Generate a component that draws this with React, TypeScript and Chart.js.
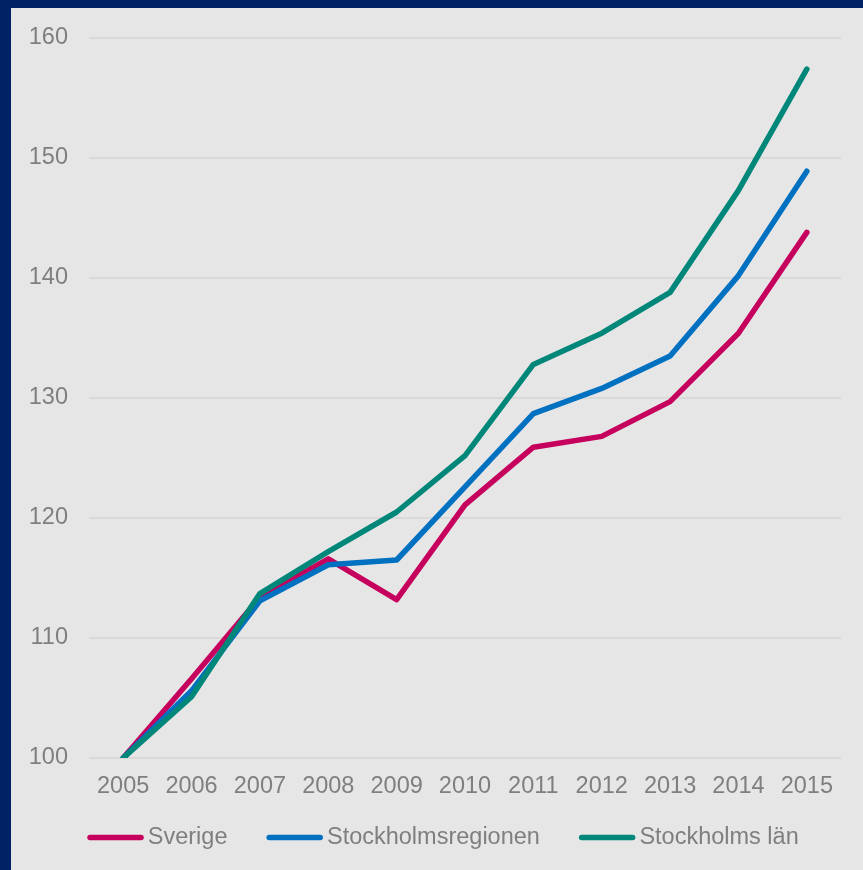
import React, { useEffect, useRef } from "react";
import { Chart, registerables } from "chart.js";

Chart.register(...registerables);

const years = ["2005", "2006", "2007", "2008", "2009", "2010", "2011", "2012", "2013", "2014", "2015"];
const sverige = [100, 106.6, 113.4, 116.6, 113.2, 121.1, 125.9, 126.8, 129.7, 135.4, 143.8];
const stockholmsregionen = [100, 105.6, 113.1, 116.1, 116.5, 122.6, 128.7, 130.8, 133.5, 140.2, 148.9];
const stockholmsLan = [100, 105.1, 113.7, 117.2, 120.5, 125.2, 132.8, 135.4, 138.8, 147.3, 157.4];
const seriesNames = ["Sverige", "Stockholmsregionen", "Stockholms län"];
const seriesColors = ["#C6005D", "#0070C0", "#00877A"];
const yTicks = [100, 110, 120, 130, 140, 150, 160];

const FONT = "'Liberation Sans', Arial, sans-serif";
const FONT_SIZE = 23.5;
const TEXT_COLOR = "#7F7F7F";

const legendPlugin = {
  id: "customBottomLegend",
  afterDraw(chart: any) {
    const ctx = chart.ctx;
    const datasets = chart.data.datasets;
    ctx.save();
    ctx.font = `${FONT_SIZE}px ${FONT}`;
    ctx.textBaseline = "middle";
    ctx.textAlign = "left";
    const lineLen = 51;
    const capW = 5.5;
    const textGap = 4;
    const itemGap = 39;
    const widths = datasets.map((d: any) => lineLen + capW + textGap + ctx.measureText(d.label).width);
    const total = widths.reduce((a: number, b: number) => a + b, 0) + itemGap * (datasets.length - 1);
    const centerX = 432;
    const y = 829.5;
    let x = centerX - total / 2;
    datasets.forEach((d: any, i: number) => {
      ctx.strokeStyle = d.borderColor;
      ctx.lineWidth = capW;
      ctx.lineCap = "round";
      ctx.beginPath();
      ctx.moveTo(x + capW / 2, y);
      ctx.lineTo(x + capW / 2 + lineLen, y);
      ctx.stroke();
      ctx.fillStyle = TEXT_COLOR;
      ctx.fillText(d.label, x + lineLen + capW + textGap, y);
      x += widths[i] + itemGap;
    });
    ctx.restore();
  },
};

export default function App() {
  const canvasRef = useRef<HTMLCanvasElement | null>(null);

  useEffect(() => {
    document.body.style.margin = "0";
    const canvas = canvasRef.current;
    if (!canvas) return;
    const seriesData = [sverige, stockholmsregionen, stockholmsLan];
    const chart = new Chart(canvas, {
      type: "line",
      data: {
        labels: years,
        datasets: seriesData.map((values, i) => ({
          label: seriesNames[i],
          data: values,
          borderColor: seriesColors[i],
          backgroundColor: seriesColors[i],
          borderWidth: 5.5,
          borderCapStyle: "round",
          borderJoinStyle: "round",
          pointRadius: 0,
          pointHoverRadius: 0,
          tension: 0,
          fill: false,
          order: 2 - i,
        })),
      },
      options: {
        responsive: false,
        animation: false,
        events: [],
        layout: { padding: { top: 30, right: 22, bottom: 0, left: 0 } },
        plugins: {
          legend: { display: false },
          tooltip: { enabled: false },
          title: { display: false },
        },
        scales: {
          x: {
            type: "category",
            offset: true,
            grid: { display: false, drawTicks: false },
            border: { display: false },
            ticks: {
              color: TEXT_COLOR,
              font: { family: FONT, size: FONT_SIZE },
              padding: 14,
              maxRotation: 0,
              autoSkip: false,
            },
            afterFit(scale: any) {
              scale.height = 112;
              scale.paddingLeft = 0;
              scale.paddingRight = 0;
            },
          },
          y: {
            min: yTicks[0],
            max: yTicks[yTicks.length - 1],
            afterBuildTicks(scale: any) {
              scale.ticks = yTicks.map((v) => ({ value: v }));
            },
            grid: { color: "#D9D9D9", lineWidth: 2, drawTicks: false },
            border: { display: false },
            ticks: {
              color: TEXT_COLOR,
              font: { family: FONT, size: FONT_SIZE },
              padding: 21,
            },
            afterFit(scale: any) {
              scale.width = 78;
              scale.paddingTop = 0;
              scale.paddingBottom = 0;
            },
          },
        },
      },
      plugins: [legendPlugin],
    } as any);
    return () => chart.destroy();
  }, []);

  return (
    <div style={{ position: "relative", width: 863, height: 870, background: "#022266", overflow: "hidden" }}>
      <div style={{ position: "absolute", left: 11, top: 8, width: 852, height: 862, background: "#E6E6E6" }}>
        <canvas ref={canvasRef} width={852} height={862} style={{ display: "block", width: 852, height: 862 }} />
      </div>
    </div>
  );
}
